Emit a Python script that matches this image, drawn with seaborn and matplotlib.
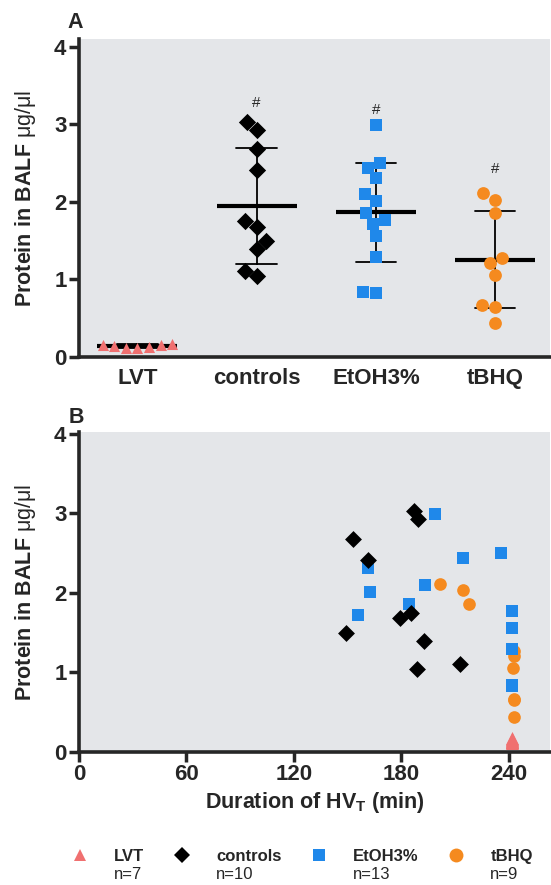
import matplotlib
matplotlib.use("Agg")
import matplotlib.pyplot as plt
from matplotlib.lines import Line2D
from matplotlib.transforms import IdentityTransform
import seaborn as sns
import pandas as pd

# groups and counts
groups = ["LVT", "controls", "EtOH3%", "tBHQ"]
group_n = ["n=7", "n=10", "n=13", "n=9"]

# protein in BALF (ug/ul)
lvt_protein = [0.13, 0.17, 0.14, 0.15, 0.11, 0.16, 0.12]
ctrl_protein = [3.03, 2.93, 2.68, 2.41, 1.75, 1.68, 1.50, 1.39, 1.11, 1.04]
etoh_protein = [2.99, 2.50, 2.44, 2.31, 2.10, 2.01, 1.86, 1.77, 1.72, 1.56, 1.29, 0.84, 0.83]
tbhq_protein = [2.11, 2.03, 1.86, 1.27, 1.21, 1.06, 0.67, 0.65, 0.44]

# duration of HVT (min)
lvt_minutes = [242, 242, 242, 242, 242, 242, 242]
ctrl_minutes = [187.3, 189.3, 152.8, 161.6, 185.4, 179.5, 148.9, 192.8, 212.7, 188.5]
etoh_minutes = [198.6, 235.5, 214.5, 161.6, 193.2, 162.5, 184.0, 242, 155.7, 242, 242, 242, 242]
tbhq_minutes = [201.8, 214.5, 217.8, 243, 243, 242.5, 243, 243, 243]

# significance marks above groups
hash_groups = ["controls", "EtOH3%", "tBHQ"]
hash_y = [3.28, 3.19, 2.42]

colors = {"LVT": "#f07070", "controls": "#000000", "EtOH3%": "#1f88ea", "tBHQ": "#f58a1f"}
markers = {"LVT": "^", "controls": "D", "EtOH3%": "s", "tBHQ": "o"}
swarm_size = {"LVT": 8.0, "controls": 8.8, "EtOH3%": 9.2, "tBHQ": 9.2}
scatter_size = {"LVT": 9.4, "controls": 8.6, "EtOH3%": 9.1, "tBHQ": 9.1}
legend_size = {"LVT": 8.9, "controls": 8.1, "EtOH3%": 9.0, "tBHQ": 10.0}

df = pd.concat([
    pd.DataFrame({"group": g, "protein": p, "minutes": m})
    for g, p, m in zip(groups,
                       [lvt_protein, ctrl_protein, etoh_protein, tbhq_protein],
                       [lvt_minutes, ctrl_minutes, etoh_minutes, tbhq_minutes])
], ignore_index=True)

bg = "#e4e6e9"
sns.set_style("ticks", {"axes.facecolor": bg})
plt.rcParams["font.family"] = ["Liberation Sans", "DejaVu Sans"]
plt.rcParams["font.weight"] = "bold"
plt.rcParams["axes.labelweight"] = "bold"
plt.rcParams["mathtext.fontset"] = "custom"
plt.rcParams["mathtext.rm"] = "Liberation Sans"
plt.rcParams["mathtext.bf"] = "Liberation Sans:bold"
plt.rcParams["mathtext.it"] = "Liberation Sans:italic"

W, H = 551, 885
fig = plt.figure(figsize=(W / 100, H / 100), dpi=100)
ax1 = fig.add_axes([79 / W, 1 - 357 / H, 471 / W, 318 / H])
ax2 = fig.add_axes([79 / W, 1 - 752 / H, 471 / W, 320 / H])

# ---- panel A: column scatter with mean +/- SD
for g in groups:
    sns.swarmplot(data=df[df["group"] == g], x="group", y="protein", order=groups,
                  marker=markers[g], color=colors[g], size=swarm_size[g],
                  linewidth=0, ax=ax1)
sns.pointplot(data=df, x="group", y="protein", order=groups, errorbar="sd",
              capsize=0.34, color="black", markers="_", linestyles="none",
              markersize=57, markeredgewidth=3, err_kws={"linewidth": 1.3}, ax=ax1)
for g, y in zip(hash_groups, hash_y):
    ax1.text(groups.index(g), y, "#", ha="center", va="center", fontsize=11,
             fontweight="normal")

ax1.set_xlim(-0.49, 3.46)
ax1.set_ylim(0, 4.1)
ax1.set_yticks([0, 1, 2, 3, 4])
ax1.set_xlabel("")
ax1.tick_params(axis="x", length=0, labelsize=16, pad=8)

# ---- panel B: protein vs duration
for g in ["LVT", "tBHQ", "EtOH3%", "controls"]:
    sns.scatterplot(data=df[df["group"] == g], x="minutes", y="protein",
                    marker=markers[g], color=colors[g], s=scatter_size[g] ** 2,
                    linewidth=0, legend=False, ax=ax2)
ax2.set_xlim(0, 263)
ax2.set_ylim(0, 4.02)
ax2.set_xticks([0, 60, 120, 180, 240])
ax2.set_yticks([0, 1, 2, 3, 4])
ax2.set_xlabel(r"Duration of HV$_{\bf T}$ (min)", fontsize=15.5)
ax2.xaxis.set_label_coords(0.5, -0.12)
ax2.tick_params(axis="x", length=7, width=2.5, labelsize=16, pad=2)

for ax in (ax1, ax2):
    sns.despine(ax=ax)
    for side in ("left", "bottom"):
        ax.spines[side].set_linewidth(2.6)
    ax.tick_params(axis="y", length=7, width=2.5, labelsize=16, pad=2)
    ax.set_ylabel(r"$\bf{Protein\ in\ BALF}$ μg/μl", fontsize=15.5, fontweight="normal")
    ax.yaxis.set_label_coords(-0.088, 0.5)

fig.text(75 / W, 1 - 23 / H, "A", fontsize=15.5, fontweight="bold", ha="center", va="center")
fig.text(76 / W, 1 - 418 / H, "B", fontsize=15.5, fontweight="bold", ha="center", va="center")

# ---- legend below
handles = [Line2D([], [], marker=markers[g], color=colors[g], linestyle="none",
                  markersize=legend_size[g], markeredgewidth=0) for g in groups]
leg = fig.legend(handles, groups, ncol=4, loc="upper left",
                 bbox_to_anchor=(71.7 / W, 1 - 849 / H), frameon=False,
                 fontsize=12, handlelength=1.0, handletextpad=1.55,
                 columnspacing=1.75, borderpad=0, borderaxespad=0)
fig.canvas.draw()
for t, n in zip(leg.get_texts(), group_n):
    bb = t.get_window_extent()
    fig.text(bb.x0, bb.y0 - 3, n, transform=IdentityTransform(), ha="left", va="top",
             fontsize=12, fontweight="normal")

fig.savefig("out.png", dpi=100)
